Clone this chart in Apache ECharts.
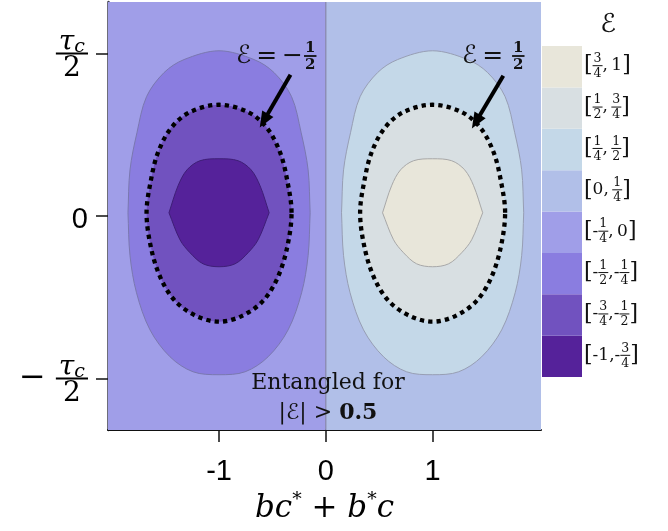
<!DOCTYPE html>
<html><head><meta charset="utf-8">
<script src="https://cdn.jsdelivr.net/npm/echarts@6/dist/echarts.min.js"></script>
<style>html,body{margin:0;padding:0;background:#fff}#c{width:668px;height:531px}</style>
</head><body><div id="c"></div>
<script>
// ---------------- data ----------------
const xRange = [-2.04, 2.015];
const yRange = [-0.658, 0.658];
const xTickValues = [-1, 0, 1];
const xTickLabels = ['-1', '0', '1'];
const yTickValues = [-0.5, 0, 0.5];
// centres of the negative / positive lobes
const lobeCentersX = [-1, 1];
const lobeCenterY = 0.01;
// contour boundaries |E| = 1/4, 1/2, 3/4 as [half-width, height from centre]
const boundaryQuarterTop = [[0.853,0],[0.834,0.132],[0.769,0.246],[0.679,0.357],[0.515,0.431],[0.328,0.471],[0,0.498]];
const boundaryQuarterBottom = [[0.853,0],[0.834,0.132],[0.773,0.246],[0.647,0.36],[0.459,0.443],[0.244,0.489],[0,0.498]];
const boundaryHalfTop = [[0.679,0],[0.637,0.102],[0.572,0.185],[0.455,0.258],[0.281,0.308],[0,0.332]];
const boundaryHalfBottom = [[0.679,0],[0.637,0.108],[0.548,0.2],[0.412,0.271],[0.216,0.317],[0,0.335]];
const boundaryThreeQuarterTop = [[0.469,0],[0.384,0.083],[0.3,0.132],[0.178,0.16],[0,0.166]];
const boundaryThreeQuarterBottom = [[0.469,0],[0.366,0.083],[0.272,0.123],[0.15,0.157],[0,0.166]];
// legend bins, bottom to top
const binLabels = ['[-1,-3/4]','[-3/4,-1/2]','[-1/2,-1/4]','[-1/4, 0]','[0, 1/4]','[1/4, 1/2]','[1/2, 3/4]','[3/4, 1]'];
const binColors = ['#55229a','#7152bf','#8a7de0','#a09ee8','#b1bfe8','#c4d8e8','#d8dfe2','#e8e6da'];
const legendSwatch = [1,1,1,1,1,1,1,1];
// arrows [start, tip]
const arrowNeg = [[-0.331,0.434],[-0.581,0.293]];
const arrowPos = [[1.662,0.431],[1.406,0.29]];
const dividerLine = [[0, yRange[0]], [0, yRange[1]]];

// ---------------- text helpers ----------------
const SERIF = "'DejaVu Serif', 'DejaVu Sans', serif";
const SANS = "'Liberation Sans', Arial, sans-serif";
const INK = '#111';
const mctx = document.createElement('canvas').getContext('2d');
function fontOf(s){ return [s.fontStyle||'normal', s.fontWeight||'normal', s.fontSize+'px', s.fontFamily].join(' '); }
function tw(t, s){ mctx.font = fontOf(s); return mctx.measureText(t).width; }
let tokCount = 0;
const SP = {fontSize: 10, fontFamily: SERIF};
function stack(columns, lh, rich, color) {
  const lines = ['', '', ''];
  const add = (li, text, s, width, extra) => {
    const name = 'k' + (tokCount++);
    rich[name] = Object.assign({color: color, fill: color}, s, {width: width, lineHeight: lh[li], align: 'left'}, extra || {});
    lines[li] += '{' + name + '|' + text + '}';
  };
  columns.forEach(col => {
    const rows = [col.top || [], col.mid || [], col.bot || []];
    const rw = rows.map(r => r.reduce((a, seg) => a + tw(seg[0], seg[1]), 0));
    const w = Math.max(rw[0], rw[1], rw[2]) + (col.pad || 0);
    rows.forEach((r, li) => {
      if (li === 1 && col.bar) { add(1, '\u00a0', SP, w, {height: col.bar, backgroundColor: color}); return; }
      const free = w - rw[li];
      const left = free / 2;
      if (left > 0.05) add(li, '\u00a0', SP, left);
      r.forEach(seg => add(li, seg[0], seg[1], tw(seg[0], seg[1])));
      if (free - left > 0.05) add(li, '\u00a0', SP, free - left);
    });
  });
  return lines.join('\n');
}

const ST = {
  tmi: {fontFamily: SERIF, fontSize: 28, fontStyle: 'italic'},
  tsub: {fontFamily: SERIF, fontSize: 19, fontStyle: 'italic', padding: [9,0,0,0]},
  trm: {fontFamily: SERIF, fontSize: 28},
  tminus: {fontFamily: SERIF, fontSize: 32},
  brk: {fontFamily: SERIF, fontSize: 22},
  lrm: {fontFamily: SERIF, fontSize: 17},
  lfr: {fontFamily: SERIF, fontSize: 12.5},
  ascr: {fontFamily: SERIF, fontSize: 25},
  aop: {fontFamily: SERIF, fontSize: 25},
  afr: {fontFamily: SERIF, fontSize: 15, fontWeight: 'bold'}
};
// y tick labels
const yRich = {z: {fontFamily: SANS, fontSize: 29, color: '#000'}};
const tauFrac = {top: [['τ', ST.tmi], ['c', ST.tsub]], bot: [['2', ST.trm]], bar: 2, pad: 6};
const yLabelTop = stack([tauFrac], [18, 4, 26], yRich, '#000');
const yLabelBottom = stack([{mid: [['−', ST.tminus]]}, {pad: 10}, tauFrac], [18, 4, 26], yRich, '#000');

// legend labels
const legendRich = {};
const legendTexts = binLabels.map(lbl => {
  const cols = [];
  lbl.split(/(\d+\/\d+)/).forEach(piece => {
    if (!piece) return;
    const m = piece.match(/^(\d+)\/(\d+)$/);
    if (m) { cols.push({top: [[m[1], ST.lfr]], bot: [[m[2], ST.lfr]], bar: 1, pad: 2}); return; }
    piece.split(/([\[\]])/).forEach(p => {
      if (!p) return;
      if (p === '[' || p === ']') cols.push({mid: [[p, ST.brk]]});
      else cols.push({mid: [[p.replace(/ /g, '\u2009'), ST.lrm]]});
    });
  });
  return stack(cols, [12, 2, 14], legendRich, INK);
});

// annotations
const annRich = {};
const annFrac = {top: [['1', ST.afr]], bot: [['2', ST.afr]], bar: 1.8, pad: 2};
const annNeg = stack([{mid: [['ℰ', ST.ascr], ['\u2009=\u2009−', ST.aop]]}, {pad: 1}, annFrac], [13, 3, 15], annRich, INK);
const annPos = stack([{mid: [['ℰ', ST.ascr], ['\u2009=\u2009', ST.aop]]}, {pad: 4}, annFrac], [13, 3, 15], annRich, INK);

// ---------------- contour drawing ----------------
const shapes = [
  {top: boundaryQuarterTop, bottom: boundaryQuarterBottom, sharp: true},
  {top: boundaryHalfTop, bottom: boundaryHalfBottom, sharp: false},
  {top: boundaryThreeQuarterTop, bottom: boundaryThreeQuarterBottom, sharp: true}
];
function dist(a, b){ return Math.hypot(a[0]-b[0], a[1]-b[1]); }
function ctrl(prev, cur, next, after) {
  const d0 = dist(prev, cur), d1 = dist(cur, next);
  if (d0 + d1 === 0) return cur;
  const k = (after ? d1 : -d0) / (d0 + d1) / 3;
  return [cur[0] + (next[0]-prev[0]) * k, cur[1] + (next[1]-prev[1]) * k];
}
function curve(pts, closed) {
  const n = pts.length;
  const P = i => closed ? pts[(i + n) % n] : pts[Math.max(0, Math.min(n - 1, i))];
  const segs = closed ? n : n - 1;
  let d = '';
  for (let i = 0; i < segs; i++) {
    const c1 = ctrl(P(i-1), P(i), P(i+1), true);
    const c2 = ctrl(P(i), P(i+1), P(i+2), false);
    const e = P(i+1);
    d += ' C' + c1[0].toFixed(2) + ',' + c1[1].toFixed(2) + ' ' + c2[0].toFixed(2) + ',' + c2[1].toFixed(2) + ' ' + e[0].toFixed(2) + ',' + e[1].toFixed(2);
  }
  return d;
}
function shapePath(shape, cx, cy, api) {
  const upper = shape.top.map(p => [cx + p[0], cy + p[1]])
    .concat(shape.top.slice(0, -1).reverse().map(p => [cx - p[0], cy + p[1]]));
  const lower = shape.bottom.map(p => [cx - p[0], cy - p[1]])
    .concat(shape.bottom.slice(0, -1).reverse().map(p => [cx + p[0], cy - p[1]]));
  const U = upper.map(p => api.coord(p)), L = lower.map(p => api.coord(p));
  const start = 'M' + U[0][0].toFixed(2) + ',' + U[0][1].toFixed(2);
  if (shape.sharp) return start + curve(U, false) + curve(L, false) + ' Z';
  const loop = U.concat(L.slice(1, -1));
  return start + curve(loop, true) + ' Z';
}
// items: [level, side]  level 0 = background half, 1..3 = inside boundary
const regionItems = [];
for (let k = 0; k < 4; k++) for (let s = 0; s < 2; s++) regionItems.push([k, s]);

function renderRegion(params, api) {
  const k = api.value(0), s = api.value(1);
  const color = s === 0 ? binColors[3 - k] : binColors[4 + k];
  if (k === 0) {
    const x0 = s === 0 ? xRange[0] : 0, x1 = s === 0 ? 0 : xRange[1];
    const a = api.coord([x0, yRange[1]]), b = api.coord([x1, yRange[0]]);
    return {type: 'rect', shape: {x: a[0], y: a[1], width: b[0] - a[0], height: b[1] - a[1]}, style: {fill: color}};
  }
  const pathData = shapePath(shapes[k - 1], lobeCentersX[s], lobeCenterY, api);
  let style;
  if (k === 1) style = {fill: color, stroke: s === 0 ? '#7a78b0' : '#979eb4', lineWidth: 1};
  else if (k === 2) style = {fill: color, stroke: '#000', lineWidth: 4.3, lineDash: [4.3, 4.1], lineCap: 'butt'};
  else style = {fill: color, stroke: s === 0 ? '#3e1e76' : '#a8a8a8', lineWidth: 1};
  return {type: 'path', shape: {pathData: pathData}, style: style};
}

const chart = echarts.init(document.getElementById('c'), null, {renderer: 'canvas'});
chart.setOption({
  animation: false,
  backgroundColor: '#fff',
  grid: [
    {left: 108, right: 127, top: 2, bottom: 101, containLabel: false, outerBoundsMode: 'none'},
    {left: 542, width: 40, top: 46, height: 331, containLabel: false, outerBoundsMode: 'none'}
  ],
  xAxis: [
    {
      type: 'value', gridIndex: 0, min: xRange[0], max: xRange[1],
      splitLine: {show: false},
      axisLine: {show: true, onZero: false, lineStyle: {color: '#111', width: 2}},
      axisTick: {show: true, length: 12, customValues: xTickValues, lineStyle: {color: '#111', width: 1.5}},
      axisLabel: {customValues: xTickValues, formatter: v => xTickLabels[xTickValues.indexOf(v)], fontFamily: SANS, fontSize: 29, color: '#000', margin: 27},
      name: '{i|bc}{s|*}{o| + }{i|b}{s|*}{i|c}',
      nameLocation: 'middle', nameGap: 61,
      nameTextStyle: {rich: {
        i: {fontFamily: SERIF, fontSize: 31, fontStyle: 'italic', color: '#000'},
        s: {fontFamily: SERIF, fontSize: 19, color: '#000', padding: [0,0,16,0]},
        o: {fontFamily: SERIF, fontSize: 31, color: '#000'}
      }}
    },
    {type: 'value', gridIndex: 1, min: 0, max: 1, show: false}
  ],
  yAxis: [
    {
      type: 'value', gridIndex: 0, min: yRange[0], max: yRange[1],
      splitLine: {show: false},
      axisLine: {show: true, onZero: false, lineStyle: {color: '#3d3d4d', width: 2.5}},
      axisTick: {show: true, length: 12, customValues: yTickValues, lineStyle: {color: '#111', width: 1.5}},
      axisLabel: {
        customValues: yTickValues,
        formatter: v => v > 0.25 ? yLabelTop : (v < -0.25 ? yLabelBottom : '{z|0}'),
        rich: yRich, margin: 20, padding: [8, 0, 0, 0]
      },
      name: '{t|τ}{d|d}', nameLocation: 'middle', nameGap: 70, nameRotate: 90,
      nameTextStyle: {rich: {
        t: {fontFamily: SERIF, fontSize: 32, fontStyle: 'italic', color: '#000'},
        d: {fontFamily: SERIF, fontSize: 32, fontStyle: 'italic', color: '#000'}
      }}
    },
    {
      type: 'category', gridIndex: 1, data: binLabels, position: 'right',
      axisLine: {show: false}, axisTick: {show: false}, splitLine: {show: false},
      axisLabel: {interval: 0, formatter: (v, i) => legendTexts[i], rich: legendRich, margin: 2}
    }
  ],
  series: [
    {
      type: 'custom', xAxisIndex: 0, yAxisIndex: 0, data: regionItems,
      renderItem: renderRegion, clip: true, silent: true, z: 2
    },
    {
      type: 'line', xAxisIndex: 0, yAxisIndex: 0, data: dividerLine, symbol: 'none',
      lineStyle: {color: '#7d7b9c', width: 1}, silent: true, z: 3,
      markLine: {
        silent: true, animation: false, symbol: ['none', 'triangle'], symbolSize: [13, 16],
        label: {show: false},
        lineStyle: {color: '#000', width: 4, type: 'solid'},
        emphasis: {disabled: true},
        data: [
          [{coord: arrowNeg[0]}, {coord: arrowNeg[1]}],
          [{coord: arrowPos[0]}, {coord: arrowPos[1]}]
        ]
      }
    },
    {
      type: 'bar', xAxisIndex: 1, yAxisIndex: 1, barWidth: '100%', silent: true,
      data: legendSwatch.map((v, i) => ({value: v, itemStyle: {color: binColors[i]}}))
    }
  ],
  graphic: [
    {type: 'text', x: 236, y: 57, z: 10, style: {text: annNeg, rich: annRich, align: 'left', verticalAlign: 'middle', fill: INK}},
    {type: 'text', x: 462, y: 57, z: 10, style: {text: annPos, rich: annRich, align: 'left', verticalAlign: 'middle', fill: INK}},
    {type: 'text', x: 328, y: 383, z: 10, style: {text: 'Entangled for', fontFamily: SERIF, fontSize: 22, align: 'center', verticalAlign: 'middle', fill: INK}},
    {type: 'text', x: 328, y: 413, z: 10, style: {text: '{a||ℰ| > }{b|0.5}', rich: {
      a: {fontFamily: SERIF, fontSize: 22, fill: INK},
      b: {fontFamily: SERIF, fontSize: 22, fontWeight: 'bold', fill: INK}
    }, align: 'center', verticalAlign: 'middle', fill: INK}},
    {type: 'text', x: 608, y: 25, z: 10, style: {text: 'ℰ', fontFamily: SERIF, fontSize: 26, align: 'center', verticalAlign: 'middle', fill: INK}}
  ]
});
</script>
</body></html>
